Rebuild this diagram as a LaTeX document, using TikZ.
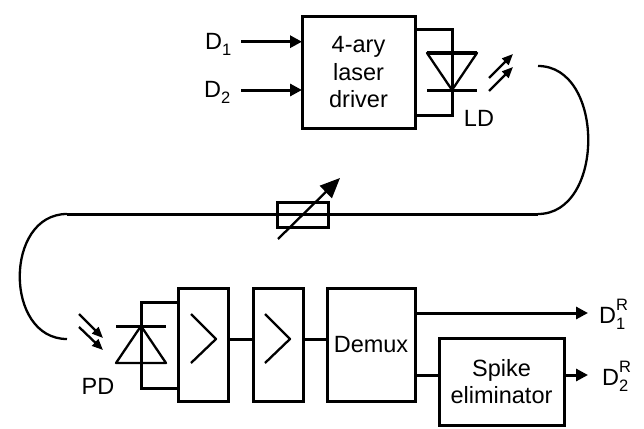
\documentclass[tikz,border=0pt]{standalone}
\usepackage{fontspec}
\setmainfont{Liberation Sans}
\usetikzlibrary{arrows.meta,positioning}
\newcommand{\subsig}[1]{\raisebox{-6pt}{\fontsize{16.5}{16.5}\selectfont #1}}
\newcommand{\supsig}[1]{\raisebox{13pt}{\fontsize{16.5}{16.5}\selectfont #1}}

\begin{document}
\begin{tikzpicture}[
  x=1pt, y=-1pt,
  node distance=25pt,
  box/.style={draw, line width=3pt, align=center, inner sep=0pt, outer sep=0pt,
              font=\fontsize{23.5}{27.5}\selectfont},
  amp/.style={box, minimum width=50pt, minimum height=113pt},
  sig/.style={inner sep=0pt, font=\fontsize{23.5}{27.5}\selectfont},
  sigout/.style={sig, anchor=base west},
  wire/.style={line width=3pt},
  fibre/.style={line width=2.3pt},
  lighttip/.style={fibre, ->, >={Triangle[length=11pt,width=9pt]}},
  >={Triangle[length=12pt,width=12pt]}]
  \useasboundingbox (0,0) rectangle (644,428);
  % transmitter
  \node[box, minimum width=113pt, minimum height=111pt] (driver) at (358.5,72.5) {4-ary\\laser\\driver};
  \coordinate (d1in) at (241,41.7);
  \coordinate (d2in) at (241,90);
  \node[sigout] (d1) at (205,49) {D\subsig{1}};
  \node[sigout] (d2) at (204,97) {D\subsig{2}};
  \draw[wire, ->] (d1in) -- (d1in -| driver.west);
  \draw[wire, ->] (d2in) -- (d2in -| driver.west);
  \coordinate (ldtop) at (452,53);
  \coordinate (ldbar) at (452,90);
  \draw[wire] ([yshift=-43pt]driver.east) -| (ldtop);
  \draw[wire] ([yshift=42.5pt]driver.east) -| (ldbar);
  \draw[fibre, line join=round] (427,53) -- (477,53) -- (ldbar) -- cycle;
  \draw[wire] (427,53) -- (477,53);
  \draw[wire] (427,90) -- (477,90);
  \draw[lighttip] (489,78) -- (513,54);
  \draw[lighttip] (489,91) -- (513,67);
  \node[sig] (ld) at (479,118) {LD};
  % fibre span
  \coordinate (fibretx) at (538,66);
  \coordinate (fibreright) at (538,214);
  \coordinate (fibreleft) at (67,214);
  \coordinate (fibrerx) at (67,339);
  \draw[fibre] (fibretx) .. controls (605,66) and (605,214) .. (fibreright);
  \draw[wire] (fibreright) -- (fibreleft);
  \draw[fibre] (fibreleft) .. controls (4,214) and (4,339) .. (fibrerx);
  \node[box, minimum width=51pt, minimum height=25pt] (atten) at (302.5,214.5) {};
  \draw[fibre, ->, >={Triangle[length=20pt,width=17pt]}] (278,239) -- (340,178);
  % receiver
  \node[amp] (amp1) at (203,344.5) {};
  \node[amp, right=of amp1] (amp2) {};
  \node[box, minimum width=88pt, minimum height=113pt, right=24pt of amp2] (demux) {Demux};
  \node[box, minimum width=125pt, minimum height=87pt] (spike) at (501.5,381.5) {Spike\\eliminator};
  \draw[fibre, line join=round] (191,314) -- (216,339) -- (191,363);
  \draw[fibre, line join=round] (265,314) -- (290,339) -- (265,363);
  \draw[wire] (amp1.east |- fibrerx) -- (amp2.west |- fibrerx);
  \draw[wire] (amp2.east |- fibrerx) -- (demux.west |- fibrerx);
  \coordinate (pdbar) at (141,326);
  \coordinate (pdbase) at (141,363);
  \draw[wire] (pdbar) |- ([yshift=-43.5pt]amp1.west);
  \draw[wire] (pdbase) |- ([yshift=42.5pt]amp1.west);
  \draw[fibre, line join=round] (116,363) -- (166,363) -- (pdbar) -- cycle;
  \draw[wire] (116,326) -- (166,326);
  \draw[lighttip] (79,314) -- (103,338);
  \draw[lighttip] (79,327) -- (103,350);
  \node[sig] (pd) at (98,386) {PD};
  % outputs
  \coordinate (out1) at (588,313);
  \coordinate (out2) at (588,375);
  \draw[wire, ->] (demux.east |- out1) -- (out1);
  \draw[wire] (demux.east |- out2) -- (spike.west |- out2);
  \draw[wire, ->] (spike.east |- out2) -- (out2);
  \node[sigout] (d1r) at (599,323) {D\rlap{\supsig{R}}\subsig{1}};
  \node[sigout] (d2r) at (602,385) {D\rlap{\supsig{R}}\subsig{2}};
\end{tikzpicture}
\end{document}
